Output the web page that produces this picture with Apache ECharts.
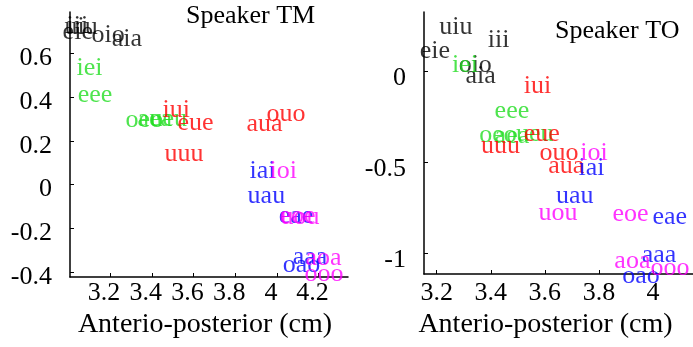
<!DOCTYPE html>
<html>
<head>
<meta charset="utf-8">
<script src="https://cdn.jsdelivr.net/npm/echarts@6.0.0/dist/echarts.min.js"></script>
<style>
  html, body { margin: 0; padding: 0; background: #fff; }
  #chart { width: 693px; height: 347px; }
</style>
</head>
<body>
<div id="chart"></div>
<script>
// word labels, grouped by middle vowel (order: iXi, eXe, aXa, oXo, uXu)
const wordsI = ["iii", "eie", "aia", "oio", "uiu"];
const wordsE = ["iei", "eee", "aea", "oeo", "ueu"];
const wordsU = ["iui", "eue", "aua", "ouo", "uuu"];
const wordsA = ["iai", "eae", "aaa", "oao", "uau"];
const wordsO = ["ioi", "eoe", "aoa", "ooo", "uou"];

// Speaker TM
const tmIx = [2.994, 2.975, 3.21, 3.114, 2.984];
const tmIy = [0.72, 0.693, 0.661, 0.679, 0.715];
const tmEx = [3.042, 3.047, 3.334, 3.277, 3.392];
const tmEy = [0.528, 0.405, 0.295, 0.291, 0.295];
const tmUx = [3.454, 3.526, 3.857, 3.953, 3.464];
const tmUy = [0.336, 0.277, 0.273, 0.318, 0.136];
const tmAx = [3.871, 4.011, 4.078, 4.03, 3.862];
const tmAy = [0.058, -0.148, -0.335, -0.371, -0.056];
const tmOx = [3.967, 4.015, 4.14, 4.135, 4.02];
const tmOy = [0.058, -0.148, -0.339, -0.412, -0.152];

// Speaker TO
const toIx = [3.391, 3.139, 3.308, 3.283, 3.211];
const toIy = [0.165, 0.105, -0.032, 0.028, 0.237];
const toEx = [3.258, 3.416, 3.416, 3.359, 3.495];
const toEy = [0.028, -0.225, -0.362, -0.357, -0.351];
const toUx = [3.524, 3.524, 3.614, 3.582, 3.366];
const toUy = [-0.087, -0.351, -0.527, -0.456, -0.417];
const toAx = [3.726, 4.0, 3.96, 3.888, 3.643];
const toAy = [-0.538, -0.807, -1.016, -1.131, -0.692];
const toOx = [3.733, 3.852, 3.859, 3.993, 3.578];
const toOy = [-0.456, -0.791, -1.049, -1.087, -0.785];

// tick labels
const tmXTicks = [3.2, 3.4, 3.6, 3.8, 4, 4.2];
const tmYTicks = [-0.4, -0.2, 0, 0.2, 0.4, 0.6];
const toXTicks = [3.2, 3.4, 3.6, 3.8, 4];
const toYTicks = [-1, -0.5, 0];

const font = "Liberation Serif";
const fs = 26;

const chart = echarts.init(document.getElementById("chart"));

const makeSeries = (words, xs, ys, color, idx) => ({
  type: "scatter",
  xAxisIndex: idx,
  yAxisIndex: idx,
  clip: false,
  symbolSize: 1,
  itemStyle: { color: "transparent" },
  label: {
    show: true,
    position: [0, 0],
    align: "left",
    verticalAlign: "middle",
    formatter: "{b}",
    color: color,
    fontFamily: font,
    fontSize: fs,
  },
  emphasis: { disabled: true },
  data: words.map((w, i) => ({ name: w, value: [xs[i], ys[i]] })),
});

// tick text as rich text so padding can nudge it like the original figure
const tickText = (pad) => ({
  formatter: (v) => "{t|" + v + "}",
  rich: { t: { padding: pad, color: "#000", fontFamily: font, fontSize: fs } },
});

const xAxisBase = (idx, min, max, ticks, pad, margin, namePad, nameGap) => ({
  type: "value",
  gridIndex: idx,
  min: min,
  max: max,
  axisLine: { show: true, onZero: false, lineStyle: { color: "#000", width: 1.5 } },
  axisTick: { show: true, inside: true, length: 4, customValues: ticks, lineStyle: { color: "#000" } },
  axisLabel: Object.assign({ customValues: ticks, margin: margin }, tickText(pad)),
  splitLine: { show: false },
  name: "Anterio-posterior (cm)",
  nameLocation: "middle",
  nameGap: nameGap,
  nameTextStyle: { color: "#000", fontFamily: font, fontSize: 28, padding: namePad },
});

const yAxisBase = (idx, min, max, ticks, pad) => ({
  type: "value",
  gridIndex: idx,
  min: min,
  max: max,
  axisLine: { show: true, onZero: false, lineStyle: { color: "#000", width: 1.5 } },
  axisTick: { show: true, inside: true, length: 4, customValues: ticks, lineStyle: { color: "#000" } },
  axisLabel: Object.assign({ customValues: ticks, margin: 18 }, tickText(pad)),
  splitLine: { show: false },
});

const option = {
  animation: false,
  backgroundColor: "#fff",
  title: [
    {
      text: "Speaker TM",
      left: 186,
      top: 3,
      padding: 0,
      textStyle: { color: "#000", fontFamily: font, fontSize: fs, fontWeight: "normal" },
    },
    {
      text: "Speaker TO",
      left: 555,
      top: 18,
      padding: 0,
      textStyle: { color: "#000", fontFamily: font, fontSize: fs, fontWeight: "normal" },
    },
  ],
  grid: [
    { left: 70, top: 12, width: 278, height: 265 },
    { left: 424, top: 12, width: 276, height: 262 },
  ],
  xAxis: [
    xAxisBase(0, 3.008, 4.341, tmXTicks, [0, 12, 0, 0], 3, [0, 8, 0, 0], 26),
    xAxisBase(1, 3.153, 4.148, toXTicks, [0, 0, 0, 0], 6, [0, 26, 0, 0], 29),
  ],
  yAxis: [
    yAxisBase(0, -0.422, 0.788, tmYTicks, [10, 0, 0, 0]),
    yAxisBase(1, -1.115, 0.324, toYTicks, [14, 0, 0, 0]),
  ],
  series: [
    makeSeries(wordsI, tmIx, tmIy, "#000000", 0),
    makeSeries(wordsE, tmEx, tmEy, "#22dd22", 0),
    makeSeries(wordsU, tmUx, tmUy, "#ff0000", 0),
    makeSeries(wordsA, tmAx, tmAy, "#0000ff", 0),
    makeSeries(wordsO, tmOx, tmOy, "#ff00ff", 0),
    makeSeries(wordsI, toIx, toIy, "#000000", 1),
    makeSeries(wordsE, toEx, toEy, "#22dd22", 1),
    makeSeries(wordsU, toUx, toUy, "#ff0000", 1),
    makeSeries(wordsA, toAx, toAy, "#0000ff", 1),
    makeSeries(wordsO, toOx, toOy, "#ff00ff", 1),
  ],
};

chart.setOption(option);
</script>
</body>
</html>
